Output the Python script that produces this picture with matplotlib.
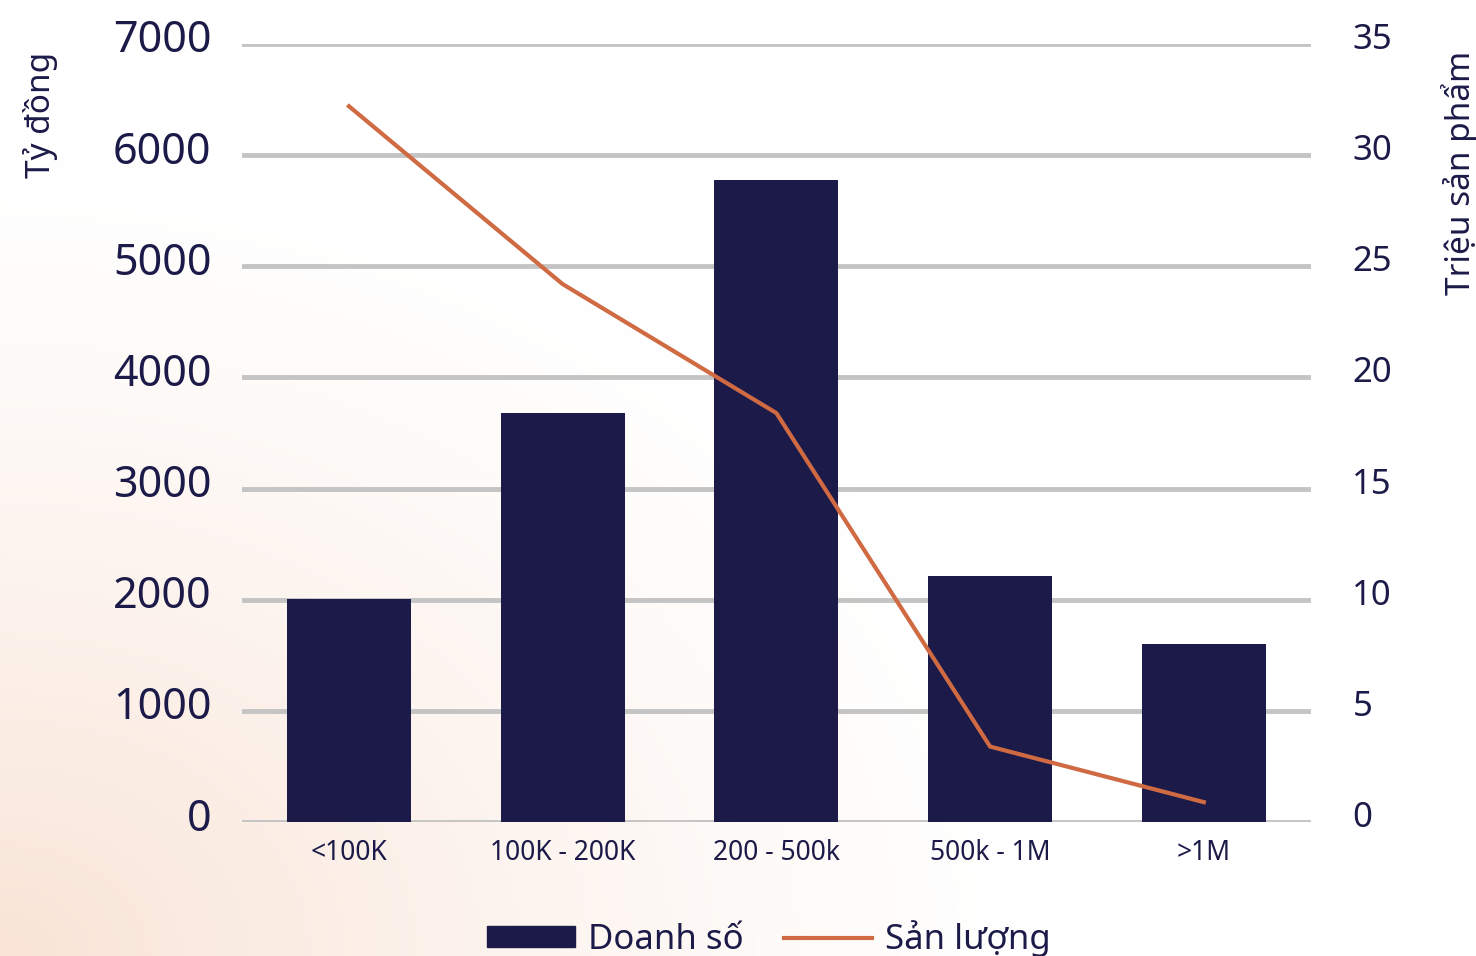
import numpy as np
import matplotlib
matplotlib.use("Agg")
from matplotlib import pyplot as plt
from matplotlib.lines import Line2D
from matplotlib.patches import Patch
from matplotlib.transforms import ScaledTranslation

# data
categories = ["<100K", "100K - 200K", "200 - 500k", "500k - 1M", ">1M"]
doanh_so = [2010, 3680, 5780, 2210, 1600]      # Tỷ đồng
san_luong = [32.2, 24.2, 18.4, 3.4, 0.9]       # Triệu sản phẩm
left_ticks = [0, 1000, 2000, 3000, 4000, 5000, 6000, 7000]
right_ticks = [0, 5, 10, 15, 20, 25, 30, 35]

navy = "#1c1a48"
orange = "#cf6a42"
text_c = "#1c1a48"

plt.rcParams['font.family'] = ['Noto Sans', 'DejaVu Sans']

fig = plt.figure(figsize=(14.76, 9.56), dpi=100)

# peach glow in the lower left corner
bg = fig.add_axes([0, 0, 1, 1], zorder=-10)
yy, xx = np.mgrid[0:956, 0:1476]
d = np.sqrt((xx / 1.3) ** 2 + ((956 - yy) / 1.0) ** 2)
t = np.clip(1 - d / 800.0, 0, 1) ** 1.3
peach = np.array([249, 228, 214]) / 255.0
img = np.ones((956, 1476, 3)) * (1 - t[..., None]) + peach * t[..., None]
bg.imshow(img, aspect="auto", extent=[0, 1, 0, 1])
bg.axis("off")

ax = fig.add_axes([0.164, 0.140, 0.724, 0.814])
ax.patch.set_alpha(0)
x = np.arange(len(categories))
ax.bar(x, doanh_so, width=0.58, color=navy, zorder=3)
ax.set_xlim(-0.5, 4.5)
ax.set_ylim(0, 7000)
ax.set_yticks(left_ticks)
ax.set_xticks(x)
ax.set_xticklabels(categories, fontsize=19, color=text_c)
ax.tick_params(axis="y", labelsize=31, colors=text_c, length=0, pad=22)
ax.tick_params(axis="x", length=0, pad=12)
ax.grid(axis="y", color="#c4c4c4", linewidth=3.5, zorder=0)
for s in ax.spines.values():
    s.set_visible(False)
ax.set_ylabel("Tỷ đồng", fontsize=24, color=text_c)
ax.yaxis.set_label_coords(-0.172, 0.909)

ax2 = ax.twinx()
ax2.plot(x, san_luong, color=orange, linewidth=3, zorder=4)
ax2.set_ylim(0, 35)
ax2.set_yticks(right_ticks)
ax2.tick_params(axis="y", labelsize=25, colors=text_c, length=0, pad=30)
for s in ax2.spines.values():
    s.set_visible(False)
ax2.set_ylabel("Triệu sản phẩm", fontsize=24, color=text_c)
ax2.yaxis.set_label_coords(1.122, 0.835)

# labels sit a little above their grid lines in the original
up = ScaledTranslation(0, 8 / 100.0, fig.dpi_scale_trans)
for lab in ax.get_yticklabels() + ax2.get_yticklabels():
    lab.set_transform(lab.get_transform() + up)

handles = [Patch(color=navy), Line2D([0], [0], color=orange, linewidth=3)]
fig.legend(handles, ["Doanh số", "Sản lượng"], loc="center",
           bbox_to_anchor=(0.521, 0.018), ncol=2, frameon=False,
           fontsize=25, labelcolor=text_c, handlelength=2.55,
           handleheight=0.55, handletextpad=0.37, columnspacing=1.15)

fig.savefig("out.png", dpi=100)
